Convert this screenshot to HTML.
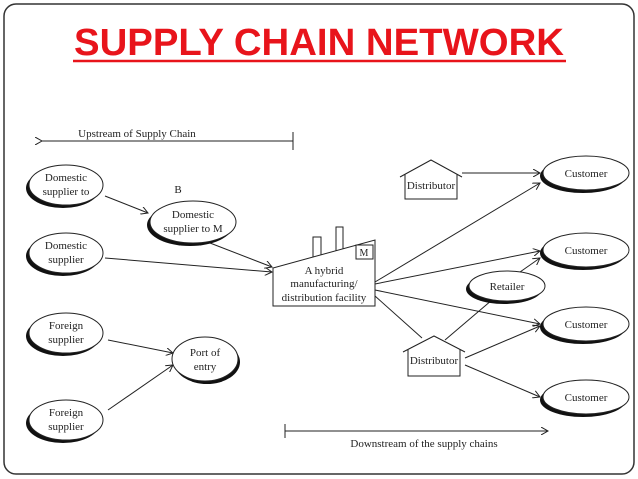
<!DOCTYPE html>
<html><head><style>
html,body{margin:0;padding:0;background:#fff;}
svg{display:block;}
</style></head><body>
<svg width="638" height="479" viewBox="0 0 638 479" xmlns="http://www.w3.org/2000/svg">
<defs>
<marker id="a" markerWidth="8" markerHeight="8" refX="7" refY="4" orient="auto" markerUnits="userSpaceOnUse">
<path d="M0,0 L7,4 L0,8" fill="none" stroke="#222" stroke-width="1"/>
</marker>
</defs>
<rect x="4" y="4" width="630" height="470" rx="12" fill="#fff" stroke="#333" stroke-width="1.5"/>
<text x="319" y="55" text-anchor="middle" font-family="Liberation Sans, sans-serif" font-weight="bold" font-size="38" fill="#e8141b" textLength="490" lengthAdjust="spacingAndGlyphs">SUPPLY CHAIN NETWORK</text>
<line x1="73" y1="61" x2="566" y2="61" stroke="#e8141b" stroke-width="2.5"/>

<g font-family="Liberation Serif, serif" font-size="11" fill="#222" text-anchor="middle">
<line x1="42" y1="141" x2="293" y2="141" stroke="#222" marker-start="url(#a)"/>
<line x1="293" y1="132" x2="293" y2="150" stroke="#222"/>
<text x="137" y="137">Upstream of Supply Chain</text>

<g stroke="#222" fill="none" stroke-width="1">
<line x1="105" y1="196" x2="148" y2="213" marker-end="url(#a)"/>
<line x1="210" y1="243" x2="272" y2="267" marker-end="url(#a)"/>
<line x1="105" y1="258" x2="272" y2="272" marker-end="url(#a)"/>
<line x1="108" y1="340" x2="173" y2="353" marker-end="url(#a)"/>
<line x1="108" y1="410" x2="173" y2="365" marker-end="url(#a)"/>
<line x1="375" y1="282" x2="540" y2="183" marker-end="url(#a)"/>
<line x1="462" y1="173" x2="540" y2="173" marker-end="url(#a)"/>
<line x1="375" y1="284" x2="540" y2="251" marker-end="url(#a)"/>
<line x1="520" y1="272" x2="540" y2="258" marker-end="url(#a)"/>
<line x1="375" y1="290" x2="540" y2="324" marker-end="url(#a)"/>
<line x1="375" y1="296" x2="422" y2="338"/>
<line x1="445" y1="340" x2="492" y2="300"/>
<line x1="465" y1="358" x2="540" y2="326" marker-end="url(#a)"/>
<line x1="465" y1="365" x2="540" y2="397" marker-end="url(#a)"/>
</g>

<g fill="#fff" stroke="#222" stroke-width="1">
<g><ellipse cx="63" cy="188" rx="37" ry="20" fill="#111" stroke="none"/><ellipse cx="66" cy="185" rx="37" ry="20"/></g>
<g><ellipse cx="190" cy="225" rx="43" ry="21" fill="#111" stroke="none"/><ellipse cx="193" cy="222" rx="43" ry="21"/></g>
<g><ellipse cx="63" cy="256" rx="37" ry="20" fill="#111" stroke="none"/><ellipse cx="66" cy="253" rx="37" ry="20"/></g>
<g><ellipse cx="63" cy="336" rx="37" ry="20" fill="#111" stroke="none"/><ellipse cx="66" cy="333" rx="37" ry="20"/></g>
<g><ellipse cx="63" cy="423" rx="37" ry="20" fill="#111" stroke="none"/><ellipse cx="66" cy="420" rx="37" ry="20"/></g>
<g><ellipse cx="207" cy="362" rx="33" ry="22" fill="#111" stroke="none"/><ellipse cx="205" cy="359" rx="33" ry="22"/></g>
<g><ellipse cx="583" cy="176" rx="43" ry="17" fill="#111" stroke="none"/><ellipse cx="586" cy="173" rx="43" ry="17"/></g>
<g><ellipse cx="583" cy="253" rx="43" ry="17" fill="#111" stroke="none"/><ellipse cx="586" cy="250" rx="43" ry="17"/></g>
<g><ellipse cx="583" cy="327" rx="43" ry="17" fill="#111" stroke="none"/><ellipse cx="586" cy="324" rx="43" ry="17"/></g>
<g><ellipse cx="583" cy="400" rx="43" ry="17" fill="#111" stroke="none"/><ellipse cx="586" cy="397" rx="43" ry="17"/></g>
<g><ellipse cx="504" cy="289" rx="38" ry="15" fill="#111" stroke="none"/><ellipse cx="507" cy="286" rx="38" ry="15"/></g>

<rect x="313" y="237" width="8" height="24"/>
<rect x="336" y="227" width="7" height="28"/>
<polygon points="273,306 273,268 375,240 375,306"/>
<rect x="356" y="245" width="17" height="14"/>
<path d="M400,177 L431,160 L462,177 L457,174 L457,199 L405,199 L405,174 Z" stroke="none"/>
<path d="M400,177 L431,160 L462,177 M457,174 L457,199 L405,199 L405,174" fill="none"/>
<path d="M403,352 L434,336 L465,352 L460,349 L460,376 L408,376 L408,349 Z" stroke="none"/>
<path d="M403,352 L434,336 L465,352 M460,349 L460,376 L408,376 L408,349" fill="none"/>
</g>

<text x="66" y="181">Domestic</text><text x="66" y="195">supplier to</text>
<text x="178" y="193">B</text>
<text x="193" y="218">Domestic</text><text x="193" y="232">supplier to M</text>
<text x="66" y="249">Domestic</text><text x="66" y="263">supplier</text>
<text x="66" y="329">Foreign</text><text x="66" y="343">supplier</text>
<text x="66" y="416">Foreign</text><text x="66" y="430">supplier</text>
<text x="205" y="356">Port of</text><text x="205" y="370">entry</text>
<text x="364" y="256" font-size="10">M</text>
<text x="324" y="274">A hybrid</text>
<text x="324" y="287">manufacturing/</text>
<text x="324" y="301">distribution facility</text>
<text x="431" y="189">Distributor</text>
<text x="434" y="364">Distributor</text>
<text x="586" y="177">Customer</text>
<text x="586" y="254">Customer</text>
<text x="586" y="328">Customer</text>
<text x="586" y="401">Customer</text>
<text x="507" y="290">Retailer</text>

<line x1="285" y1="431" x2="548" y2="431" stroke="#222" marker-end="url(#a)"/>
<line x1="285" y1="424" x2="285" y2="438" stroke="#222"/>
<text x="424" y="447">Downstream of the supply chains</text>
</g>
</svg>
</body></html>
